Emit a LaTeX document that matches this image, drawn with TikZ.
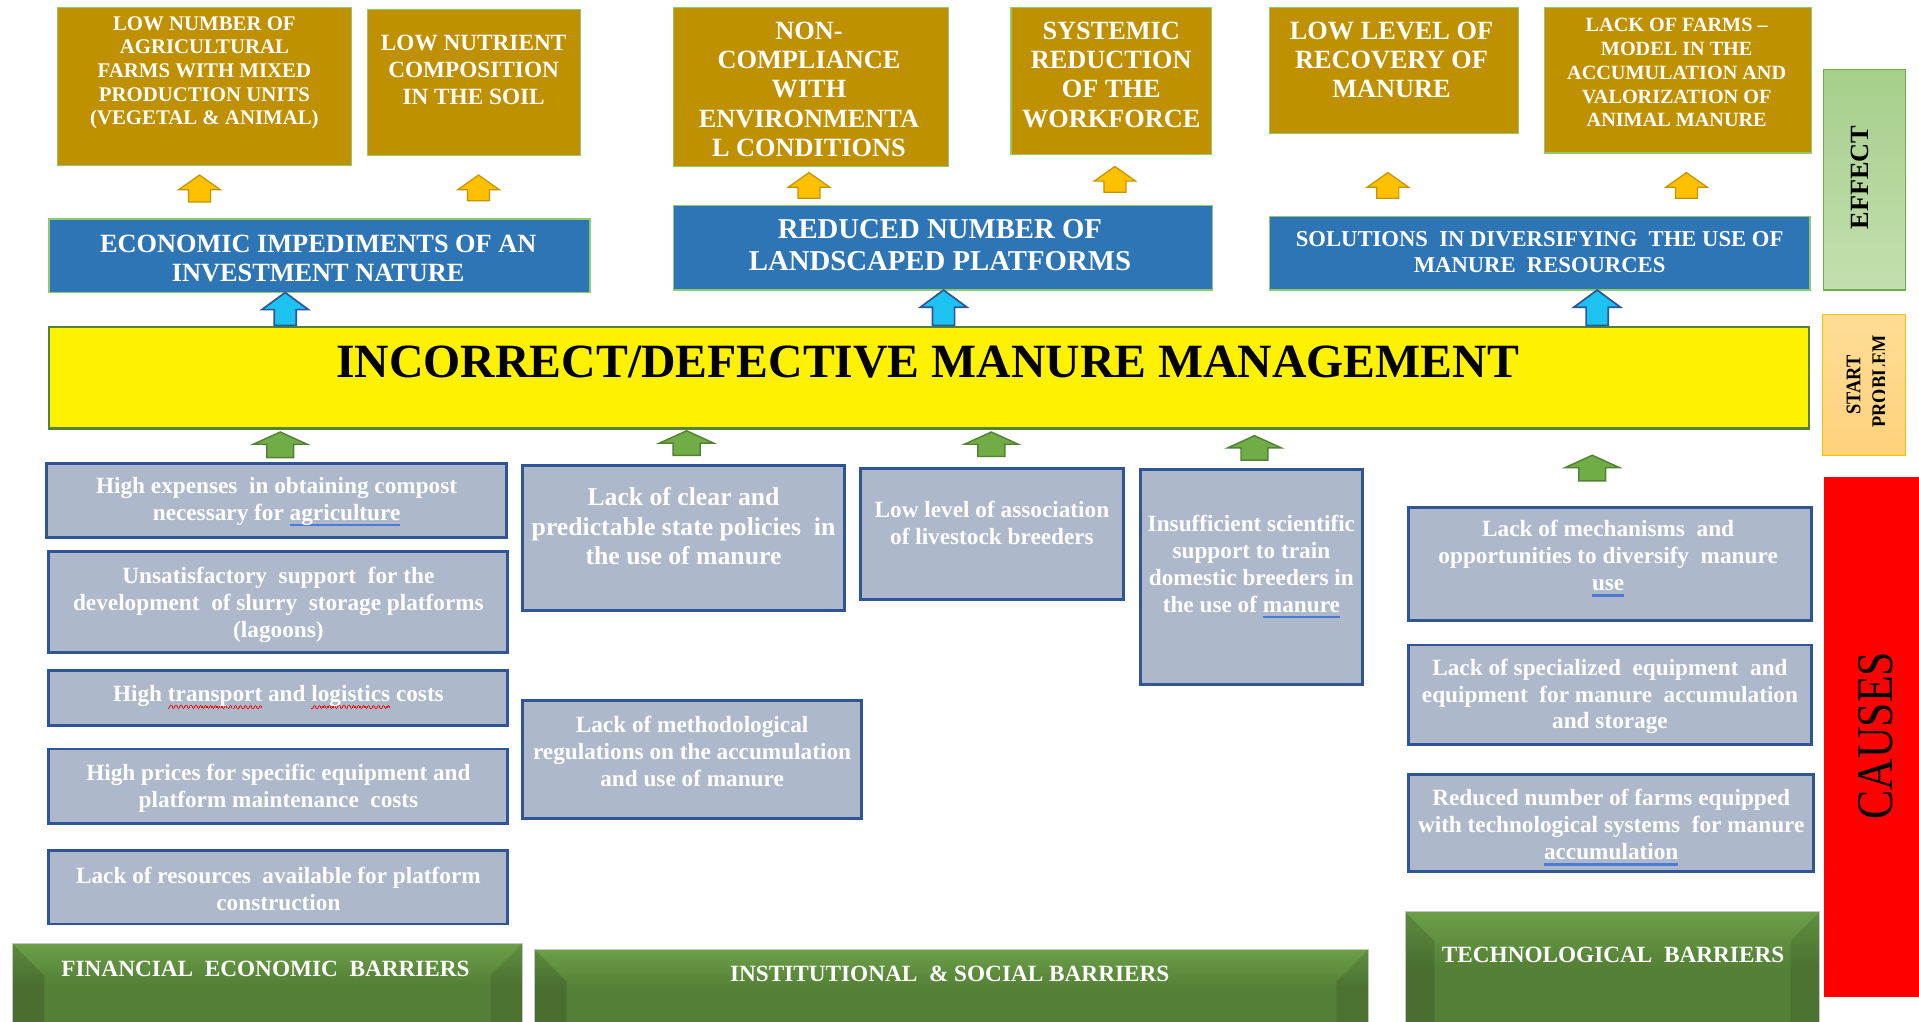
\documentclass[tikz,border=0pt]{standalone}
\usepackage{fontspec}
\setmainfont{Liberation Serif}
\newfontfamily\tallserif[FakeStretch=0.85]{Liberation Serif}
\newfontfamily\startbold[FakeStretch=0.88]{Liberation Serif Bold}
\usetikzlibrary{calc}

\definecolor{goldbox}{HTML}{BF9000}
\definecolor{amber}{HTML}{FFC000}
\definecolor{amberrim}{HTML}{C49400}
\definecolor{steel}{HTML}{2E75B6}
\definecolor{rimgreen}{HTML}{8FCB6E}
\definecolor{slate}{HTML}{ADB9CA}
\definecolor{navy}{HTML}{2F5597}
\definecolor{sky}{HTML}{1CC3F0}
\definecolor{grass}{HTML}{70AD47}
\definecolor{forest}{HTML}{548235}
\definecolor{mint}{HTML}{A6CF8A}
\definecolor{mintpale}{HTML}{C3DFB0}
\definecolor{peach}{HTML}{FFDC96}
\definecolor{peachdeep}{HTML}{FFD27C}
\definecolor{markblue}{HTML}{4A7BD8}
\definecolor{barlight}{HTML}{A6D58A}
\definecolor{barmid}{HTML}{6A9E47}
\definecolor{bardark}{HTML}{547F36}

% bevelled barrier face: dark below, light band at the top
\pgfdeclareverticalshading{barrierfill}{100bp}{color(0bp)=(bardark); color(50bp)=(bardark); color(74bp)=(barmid); color(100bp)=(barlight)}

% spelling / grammar marks under single words
\newsavebox\markedword
\newcommand\blueline[1]{\sbox\markedword{#1}\rlap{\textcolor{markblue}{\rule[-5pt]{\wd\markedword}{2.2pt}}}\usebox\markedword}
\newcommand\redwave[1]{\sbox\markedword{#1}\rlap{\textcolor{red}{\hbox to\wd\markedword{\xleaders\hbox{\rule[-6pt]{1pt}{0.9pt}\rule[-5pt]{1pt}{0.9pt}\rule[-4pt]{1pt}{0.9pt}\rule[-5pt]{1pt}{0.9pt}}\hfil}}}\usebox\markedword}

% upward block arrow: style, centre x, top y, bottom y, head half width, shaft half width, head length
\newcommand\blockup[7]{%
  \draw[#1] (#2,#3) -- ({#2+#5},{#3+#7}) -- ({#2+#6},{#3+#7}) -- ({#2+#6},#4)
    -- ({#2-#6},#4) -- ({#2-#6},{#3+#7}) -- ({#2-#5},{#3+#7}) -- cycle;}

% bevelled barrier plate: x1, y1, x2, y2, bevel
\newcommand\barrier[5]{%
  \shade[shading=barrierfill] (#1,#2) rectangle (#3,#4);
  \fill[black, opacity=0.13] (#1,#2) -- ({#1+#5},{#2+#5}) -- ({#1+#5},#4) -- (#1,#4) -- cycle;
  \fill[black, opacity=0.10] (#3,#2) -- ({#3-#5},{#2+#5}) -- ({#3-#5},#4) -- (#3,#4) -- cycle;
  \draw[black!22, line width=0.8pt] (#1,#2) rectangle (#3,#4);}

\tikzset{
  effectbox/.style={draw=rimgreen, line width=1pt, fill=goldbox, inner sep=0},
  bluebox/.style={draw=rimgreen, line width=1pt, fill=steel, inner sep=0},
  causebox/.style={draw=navy, line width=2.4pt, fill=slate, inner sep=0},
  whitetext/.style={text=white, align=center, inner sep=0},
  efftext/.style={whitetext, font={\fontsize{21.5}{24}\selectfont\bfseries}},
  efftextsmall/.style={whitetext, font={\fontsize{16.5}{19.4}\selectfont\bfseries}},
  efftextmixed/.style={whitetext, font={\fontsize{17}{19.4}\selectfont\bfseries}},
  causetext/.style={whitetext, font={\fontsize{19}{22}\selectfont\bfseries}},
  causetextlarge/.style={whitetext, font={\fontsize{21}{24}\selectfont\bfseries}},
  barriertext/.style={whitetext, font={\fontsize{19}{22}\selectfont\bfseries}},
  goldarrow/.style={fill=amber, draw=amberrim, line width=1pt},
  skyarrow/.style={fill=sky, draw=navy, line width=1.4pt},
  grassarrow/.style={fill=grass, draw=forest, line width=1.2pt},
}

\begin{document}
\begin{tikzpicture}[x=1pt, y=-1pt]
\useasboundingbox (0,0) rectangle (1568,835);
\clip (0,0) rectangle (1568,835);
\fill[white] (0,0) rectangle (1568,835);

% ---------- effects ----------
\node[effectbox, minimum width=240pt, minimum height=129pt] (e1) at (167,70.5) {};
\node[efftextmixed] (e1t) at (167,59.5) {LOW NUMBER OF\\AGRICULTURAL\\FARMS WITH MIXED\\PRODUCTION UNITS\\(VEGETAL \& ANIMAL)};
\node[effectbox, minimum width=174pt, minimum height=119pt] (e2) at (387,67.5) {};
\node[whitetext, font={\fontsize{19}{22}\selectfont\bfseries}] (e2t) at (387,57) {LOW NUTRIENT\\COMPOSITION\\IN THE SOIL};
\node[effectbox, minimum width=225pt, minimum height=130pt] (e3) at (662.5,71) {};
\node[efftext] (e3t) at (661,73) {NON-\\COMPLIANCE\\WITH\\ENVIRONMENTA\\L CONDITIONS};
\node[effectbox, minimum width=164pt, minimum height=120pt] (e4) at (908,66) {};
\node[efftext] (e4t) at (908,61) {SYSTEMIC\\REDUCTION\\OF THE\\WORKFORCE};
\node[effectbox, minimum width=204pt, minimum height=103pt] (e5) at (1139,57.5) {};
\node[efftext] (e5t) at (1137,49) {LOW LEVEL OF\\RECOVERY OF\\MANURE};
\node[effectbox, minimum width=218pt, minimum height=119pt] (e6) at (1371,65.5) {};
\node[efftextsmall] (e6t) at (1370,59.5) {LACK OF FARMS –\\MODEL IN THE\\ACCUMULATION AND\\VALORIZATION OF\\ANIMAL MANURE};

% ---------- consequences of the problem ----------
\node[bluebox, minimum width=442pt, minimum height=60pt] (b1) at (261,209) {};
\node[whitetext, font={\fontsize{21.5}{24}\selectfont\bfseries}] (b1t) at (260,211) {ECONOMIC IMPEDIMENTS OF AN\\INVESTMENT NATURE};
\node[bluebox, minimum width=441pt, minimum height=69pt] (b2) at (770.5,202.5) {};
\node[whitetext, font={\fontsize{23.5}{26}\selectfont\bfseries}] (b2t) at (768,200.5) {REDUCED NUMBER OF\\LANDSCAPED PLATFORMS};
\node[bluebox, minimum width=442pt, minimum height=60pt] (b3) at (1258,207) {};
\node[whitetext, font={\fontsize{18.5}{21}\selectfont\bfseries}] (b3t) at (1258,206) {SOLUTIONS~~IN DIVERSIFYING~~THE USE OF\\MANURE~~RESOURCES};

% ---------- central problem ----------
\node[draw=forest, line width=2pt, fill=yellow, minimum width=1438pt, minimum height=83pt, inner sep=0] (core) at (759,308.5) {};
\node[inner sep=0, font={\fontsize{39}{44}\selectfont\bfseries}] (coret) at (758,296) {INCORRECT/DEFECTIVE MANURE MANAGEMENT};

% ---------- side labels ----------
\shade[top color=mint, bottom color=mintpale, draw=grass, line width=1pt] (1490,57) rectangle (1557,237);
\node[rotate=90, inner sep=0, font={\fontsize{21.5}{24}\selectfont\bfseries}] (effect) at (1520,145) {EFFECT};
\shade[top color=peach, bottom color=peachdeep, draw=amber, line width=1.2pt] (1489,257) rectangle (1557,372);
\node[rotate=90, inner sep=0, font={\startbold\fontsize{17}{20}\selectfont}] (start) at (1514.5,314.5) {START};
\begin{scope}
  \clip (1489,257) rectangle (1539.5,372);
  \node[rotate=90, inner sep=0, font={\startbold\fontsize{17}{20}\selectfont}] (problem) at (1535.5,311.5) {PROBLEM};
\end{scope}
\fill[red] (1490,390) rectangle (1570,815);
\node[rotate=90, inner sep=0, font={\tallserif\fontsize{42}{46}\selectfont}] (causes) at (1533,601) {CAUSES};

% ---------- causes ----------
\node[causebox, minimum width=376pt, minimum height=60pt] (k1) at (226,409) {};
\node[causetext] (k1t) at (226,410) {High expenses~~in obtaining compost\\necessary for \blueline{agriculture}};
\node[causebox, minimum width=375pt, minimum height=82pt] (k2) at (227.5,492) {};
\node[causetext] (k2t) at (227.5,494) {Unsatisfactory~~support~~for the\\development~~of slurry~~storage platforms\\(lagoons)};
\node[causebox, minimum width=375pt, minimum height=45pt] (k3) at (227.5,570.5) {};
\node[causetext] (k3t) at (227.5,569.5) {High \redwave{transport} and \redwave{logistics} costs};
\node[causebox, minimum width=375pt, minimum height=61pt] (k4) at (227.5,642.5) {};
\node[causetext] (k4t) at (227.5,644) {High prices for specific equipment and\\platform maintenance~~costs};
\node[causebox, minimum width=375pt, minimum height=60pt] (k5) at (227.5,725) {};
\node[causetext] (k5t) at (227.5,726) {Lack of resources~~available for platform\\construction};

\node[causebox, minimum width=263pt, minimum height=119pt] (k6) at (558.5,439.5) {};
\node[causetextlarge] (k6t) at (558.5,430) {Lack of clear and\\predictable state policies~~in\\the use of manure};
\node[causebox, minimum width=277pt, minimum height=97pt] (k7) at (565.5,620.5) {};
\node[causetext] (k7t) at (565.5,614) {Lack of methodological\\regulations on the accumulation\\and use of manure};

\node[causebox, minimum width=215pt, minimum height=107pt] (k8) at (810.5,436.5) {};
\node[causetext] (k8t) at (810.5,427) {Low level of association\\of livestock breeders};

\node[causebox, minimum width=181pt, minimum height=175pt] (k9) at (1022.5,471.5) {};
\node[causetext] (k9t) at (1022.5,463) {Insufficient scientific\\support to train\\domestic breeders in\\the use of \blueline{manure}};

\node[causebox, minimum width=329pt, minimum height=92pt] (k10) at (1315.5,461) {};
\node[causetext] (k10t) at (1314,456.5) {Lack of mechanisms~~and\\opportunities to diversify~~manure\\\blueline{use}};
\node[causebox, minimum width=329pt, minimum height=81pt] (k11) at (1315.5,567.5) {};
\node[causetext] (k11t) at (1315.5,569) {Lack of specialized~~equipment~~and\\equipment~~for manure~~accumulation\\and storage};
\node[causebox, minimum width=331pt, minimum height=79pt] (k12) at (1316.5,672.5) {};
\node[causetext] (k12t) at (1316.5,676) {Reduced number of farms equipped\\with technological systems~~for manure\\\blueline{accumulation}};

% ---------- barrier groups ----------
\barrier{10}{771}{427}{840}{26}
\node[barriertext] (fin) at (217,792) {FINANCIAL~~ECONOMIC~~BARRIERS};
\barrier{437}{776}{1118}{840}{26}
\node[barriertext] (inst) at (776,796) {INSTITUTIONAL~~\& SOCIAL BARRIERS};
\barrier{1148}{745}{1487}{840}{24}
\node[barriertext] (tech) at (1318,780) {TECHNOLOGICAL~~BARRIERS};

% ---------- block arrows ----------
\blockup{goldarrow}{163}{143}{165}{17}{9}{12}
\blockup{goldarrow}{391}{143}{164}{17}{9}{12}
\blockup{goldarrow}{661}{141}{162}{17}{9}{12}
\blockup{goldarrow}{911}{136}{157}{17}{9}{12}
\blockup{goldarrow}{1134}{141}{162}{17}{9}{12}
\blockup{goldarrow}{1378}{141}{162}{17}{9}{12}

\blockup{skyarrow}{233}{239}{266}{19}{9}{14}
\blockup{skyarrow}{771}{237}{266}{19}{9}{14}
\blockup{skyarrow}{1305}{237}{266}{19}{9}{14}

\blockup{grassarrow}{229}{353}{374}{22}{11}{10}
\blockup{grassarrow}{561}{352}{372}{22}{11}{10}
\blockup{grassarrow}{810}{353}{373}{22}{11}{10}
\blockup{grassarrow}{1025}{356}{376}{22}{11}{10}
\blockup{grassarrow}{1301}{372}{393}{22}{11}{10}
\end{tikzpicture}
\end{document}
